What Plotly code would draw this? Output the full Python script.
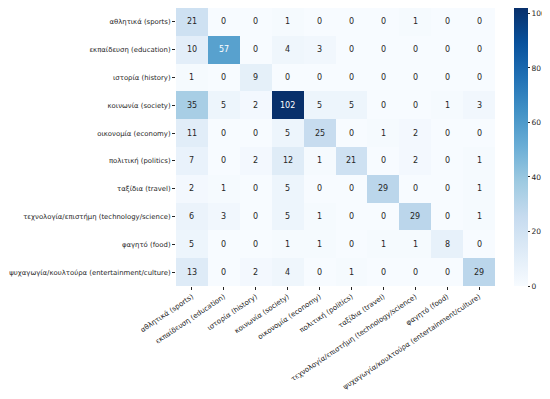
import plotly.graph_objects as go

labels = [
    "αθλητικά (sports)",
    "εκπαίδευση (education)",
    "ιστορία (history)",
    "κοινωνία (society)",
    "οικονομία (economy)",
    "πολιτική (politics)",
    "ταξίδια (travel)",
    "τεχνολογία/επιστήμη (technology/science)",
    "φαγητό (food)",
    "ψυχαγωγία/κουλτούρα (entertainment/culture)",
]

matrix = [
    [21, 0, 0, 1, 0, 0, 0, 1, 0, 0],
    [10, 57, 0, 4, 3, 0, 0, 0, 0, 0],
    [1, 0, 9, 0, 0, 0, 0, 0, 0, 0],
    [35, 5, 2, 102, 5, 5, 0, 0, 1, 3],
    [11, 0, 0, 5, 25, 0, 1, 2, 0, 0],
    [7, 0, 2, 12, 1, 21, 0, 2, 0, 1],
    [2, 1, 0, 5, 0, 0, 29, 0, 0, 1],
    [6, 3, 0, 5, 1, 0, 0, 29, 0, 1],
    [5, 0, 0, 1, 1, 0, 1, 1, 8, 0],
    [13, 0, 2, 4, 0, 1, 0, 0, 0, 29],
]

colorbar_ticks = [0, 20, 40, 60, 80, 100]

blues = [
    [0.0, "#f7fbff"], [0.125, "#deebf7"], [0.25, "#c6dbef"], [0.375, "#9ecae1"],
    [0.5, "#6baed6"], [0.625, "#4292c6"], [0.75, "#2171b5"], [0.875, "#08519c"],
    [1.0, "#08306b"],
]

FONT = "DejaVu Sans"
TXT = "#262626"
zmax = max(max(r) for r in matrix)

# The page body has an 8px default margin, so the figure is sized to fit the window.
W, H = 542, 391

fig = go.Figure(
    go.Heatmap(
        z=matrix,
        x=labels,
        y=labels,
        colorscale=blues,
        zmin=0,
        zmax=zmax,
        showscale=True,
        colorbar=dict(
            thickness=14,
            len=278,
            lenmode="pixels",
            xref="container",
            x=506 / W,
            xanchor="left",
            xpad=0,
            ypad=0,
            yref="container",
            y=1.0,
            yanchor="top",
            outlinewidth=0,
            tickvals=colorbar_ticks,
            ticks="outside",
            ticklen=2.5,
            tickcolor=TXT,
            tickfont=dict(family=FONT, size=7.5, color=TXT),
        ),
        hoverinfo="skip",
    )
)

annotations = []
for i, row in enumerate(matrix):
    for j, v in enumerate(row):
        annotations.append(
            dict(
                x=labels[j],
                y=labels[i],
                text=str(v),
                showarrow=False,
                font=dict(family=FONT, size=8, color="white" if v / zmax > 0.5 else TXT),
            )
        )

fig.update_layout(
    width=W,
    height=H,
    margin=dict(l=168, r=55, t=0, b=113, autoexpand=False),
    paper_bgcolor="white",
    plot_bgcolor="white",
    annotations=annotations,
    font=dict(family=FONT, size=8, color=TXT),
    xaxis=dict(
        tickangle=-34,
        ticks="outside",
        ticklen=3,
        tickcolor=TXT,
        tickfont=dict(family=FONT, size=7.0, color=TXT),
        showgrid=False,
        zeroline=False,
        automargin=False,
    ),
    yaxis=dict(
        autorange="reversed",
        ticks="outside",
        ticklen=3,
        tickcolor=TXT,
        tickfont=dict(family=FONT, size=6.9, color=TXT),
        showgrid=False,
        zeroline=False,
        automargin=False,
    ),
)

fig.write_html("out.html")
